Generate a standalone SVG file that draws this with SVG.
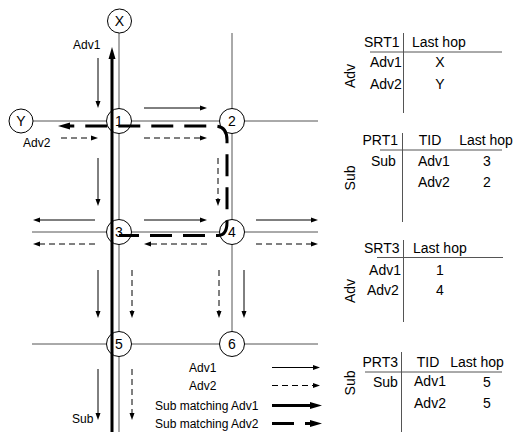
<svg xmlns="http://www.w3.org/2000/svg" width="515" height="432" viewBox="0 0 515 432">
<style>
text{font-family:"Liberation Sans",Arial,sans-serif;fill:#000}
.lbl{font-size:12px}
.tb{font-size:14px}
.nl{font-size:14px;text-anchor:middle}
.mid{text-anchor:middle}
.end{text-anchor:end}
.grid{stroke:#555;stroke-width:1;fill:none}
.node{fill:#fff;stroke:#000;stroke-width:1}
.a1{stroke:#000;stroke-width:1;fill:none;marker-end:url(#ah)}
.a2{stroke:#000;stroke-width:1;fill:none;stroke-dasharray:6 4;marker-end:url(#ah)}
.s1{stroke:#000;stroke-width:3;fill:none;marker-end:url(#ahb)}
.s2{stroke:#000;stroke-width:3;fill:none;stroke-dasharray:22 11;marker-end:url(#ahb)}
.tl{stroke:#555;stroke-width:1;fill:none}
</style>
<defs>
<marker id="ah" markerUnits="userSpaceOnUse" markerWidth="8" markerHeight="6" refX="0" refY="2.5" orient="auto" overflow="visible"><path d="M0,0 L7,2.5 L0,5 z" fill="#000"/></marker>
<marker id="ahb" markerUnits="userSpaceOnUse" markerWidth="13" markerHeight="8" refX="0" refY="3.5" orient="auto" overflow="visible"><path d="M0,0 L12,3.5 L0,7 z" fill="#000"/></marker>
</defs>

<g id="connectors-links">
<path class="grid" d="M32,121 H318"/>
<path class="grid" d="M32,232 H318"/>
<path class="grid" d="M32,344 H318"/>
<path class="grid" d="M119,33 V432"/>
<path class="grid" d="M232,33 V332"/>
</g>

<g id="connectors-adv">
<path class="a1" d="M98,58 V101"/>
<path class="a1" d="M144,108 H200"/>
<path class="a1" d="M98,158 V199"/>
<path class="a1" d="M95,220 H40"/>
<path class="a1" d="M144,220 H200"/>
<path class="a1" d="M256,220 H311"/>
<path class="a1" d="M98,270 V311"/>
<path class="a1" d="M244,270 V311"/>
<path class="a1" d="M98,369 V413"/>
<path class="a2" d="M61,138 H91"/>
<path class="a2" d="M144,138 H200"/>
<path class="a2" d="M218,158 V199"/>
<path class="a2" d="M95,244 H40"/>
<path class="a2" d="M207,244 H151"/>
<path class="a2" d="M256,244 H311"/>
<path class="a2" d="M132,270 V311"/>
<path class="a2" d="M219,270 V311"/>
<path class="a2" d="M132,369 V413"/>
</g>

<g id="node-X"><circle class="node" cx="119.5" cy="21" r="12"/><text class="nl" x="119.5" y="26">X</text></g>
<g id="node-Y"><circle class="node" cx="21" cy="121" r="12"/><text class="nl" x="21" y="126">Y</text></g>
<g id="node-1"><circle class="node" cx="119" cy="121" r="12.5"/><text class="nl" x="119" y="126">1</text></g>
<g id="node-2"><circle class="node" cx="232" cy="121" r="12.5"/><text class="nl" x="232" y="126">2</text></g>
<g id="node-3"><circle class="node" cx="119" cy="232" r="12.5"/><text class="nl" x="119" y="237">3</text></g>
<g id="node-4"><circle class="node" cx="232" cy="232" r="12.5"/><text class="nl" x="232" y="237">4</text></g>
<g id="node-5"><circle class="node" cx="119" cy="344" r="12.5"/><text class="nl" x="119" y="349">5</text></g>
<g id="node-6"><circle class="node" cx="232" cy="344" r="12.5"/><text class="nl" x="232" y="349">6</text></g>

<g id="connectors-sub">
<path class="s1" d="M112,432 V59"/>
<path class="s2" stroke-dashoffset="2" d="M119,235.5 H218 Q227,235.5 227,222 V140 Q227,126 215,126 H70"/>
</g>

<g id="labels">
<text class="lbl" x="73" y="49">Adv1</text>
<text class="lbl" x="23" y="147">Adv2</text>
<text class="lbl" x="72" y="423">Sub</text>
</g>

<g id="legend">
<text class="lbl" x="189" y="372">Adv1</text>
<text class="lbl" x="189" y="390">Adv2</text>
<text class="lbl" x="155" y="410">Sub matching Adv1</text>
<text class="lbl" x="155" y="428">Sub matching Adv2</text>
<path class="a1" d="M272,367.5 H313"/>
<path class="a2" d="M272,385.5 H313"/>
<path class="s1" d="M272,405.5 H310"/>
<path class="s2" d="M272,423.5 H310"/>
</g>

<g id="table-SRT1">
<path class="tl" d="M403.5,33 V113 M370,52 H502"/>
<text class="tb" x="364" y="47">SRT1</text>
<text class="tb" x="412" y="47">Last hop</text>
<text class="tb" x="370" y="67">Adv1</text>
<text class="tb mid" x="440" y="67">X</text>
<text class="tb" x="370" y="89">Adv2</text>
<text class="tb mid" x="440" y="89">Y</text>
<text class="tb mid" transform="translate(355,76) rotate(-90)">Adv</text>
</g>

<g id="table-PRT1">
<path class="tl" d="M402.5,133 V222 M380,150 H502"/>
<text class="tb end" x="398" y="145">PRT1</text>
<text class="tb mid" x="430" y="145">TID</text>
<text class="tb mid" x="486" y="145">Last hop</text>
<text class="tb" x="371" y="166">Sub</text>
<text class="tb" x="418" y="166">Adv1</text>
<text class="tb mid" x="487" y="166">3</text>
<text class="tb" x="418" y="187">Adv2</text>
<text class="tb mid" x="487" y="187">2</text>
<text class="tb mid" transform="translate(355,178) rotate(-90)">Sub</text>
</g>

<g id="table-SRT3">
<path class="tl" d="M403.5,240 V322 M377,257.5 H503"/>
<text class="tb" x="364" y="253">SRT3</text>
<text class="tb" x="413" y="253">Last hop</text>
<text class="tb end" x="401" y="275">Adv1</text>
<text class="tb mid" x="440" y="275">1</text>
<text class="tb" x="367" y="295">Adv2</text>
<text class="tb mid" x="440" y="295">4</text>
<text class="tb mid" transform="translate(355,291) rotate(-90)">Adv</text>
</g>

<g id="table-PRT3">
<path class="tl" d="M401.5,352 V432 M365,372 H502"/>
<text class="tb end" x="398" y="367">PRT3</text>
<text class="tb mid" x="428" y="367">TID</text>
<text class="tb mid" x="477" y="367">Last hop</text>
<text class="tb" x="373" y="387">Sub</text>
<text class="tb mid" x="430" y="386">Adv1</text>
<text class="tb mid" x="487" y="387">5</text>
<text class="tb mid" x="430" y="408">Adv2</text>
<text class="tb mid" x="487" y="408">5</text>
<text class="tb mid" transform="translate(355,383) rotate(-90)">Sub</text>
</g>
</svg>
